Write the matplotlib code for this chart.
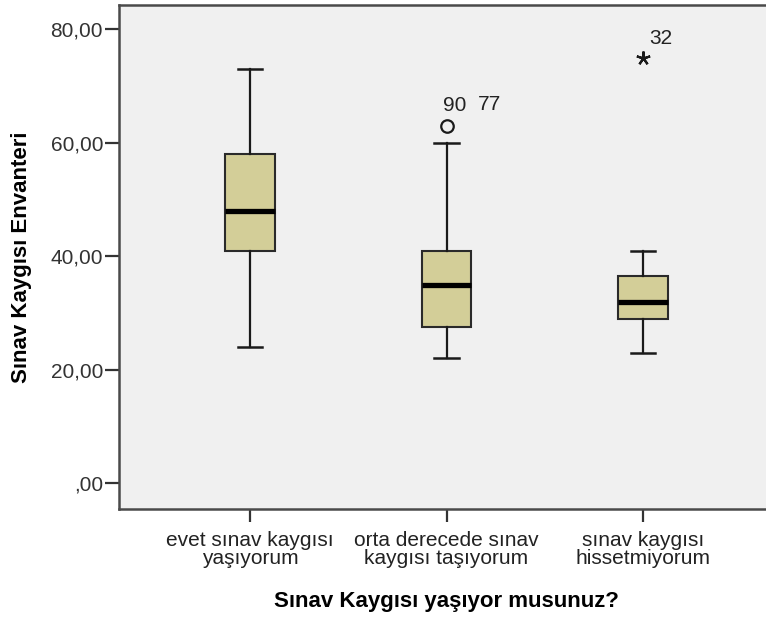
import matplotlib
matplotlib.use("Agg")
import matplotlib.pyplot as plt

plt.rcParams['font.family'] = ['Liberation Sans', 'DejaVu Sans']

# ---- data ----
categories = ["evet sınav kaygısı\nyaşıyorum",
              "orta derecede sınav\nkaygısı taşıyorum",
              "sınav kaygısı\nhissetmiyorum"]
whislo = [24, 22, 23]
q1 = [41, 27.5, 29]
med = [48, 35, 32]
q3 = [58, 41, 36.5]
whishi = [73, 60, 41]

outlier_group = [2]          # mild outliers (circle)
outlier_value = [63]
outlier_labels = [["90", "77"]]

extreme_group = [3]          # extreme (star)
extreme_value = [75]
extreme_labels = [["32"]]

yticks = [0, 20, 40, 60, 80]
ytick_labels = [",00", "20,00", "40,00", "60,00", "80,00"]

xlabel = "Sınav Kaygısı yaşıyor musunuz?"
ylabel = "Sınav Kaygısı Envanteri"

# ---- figure ----
W, H = 766, 621
fig = plt.figure(figsize=(W / 100, H / 100), dpi=100)
ax = fig.add_axes([119 / W, 112 / H, (W - 119) / W, 504 / H])
ax.set_facecolor("#F0F0F0")

stats = []
for i in range(len(categories)):
    stats.append(dict(whislo=whislo[i], q1=q1[i], med=med[i], q3=q3[i],
                      whishi=whishi[i], fliers=[]))
positions = list(range(1, len(categories) + 1))
ax.bxp(stats, positions=positions, widths=0.25, capwidths=0.127,
       patch_artist=True, showfliers=False,
       boxprops=dict(facecolor="#D3CE98", edgecolor="#2a2a2a", linewidth=1.5),
       medianprops=dict(color="black", linewidth=3.8, solid_capstyle="butt"),
       whiskerprops=dict(color="#1a1a1a", linewidth=1.6),
       capprops=dict(color="#1a1a1a", linewidth=1.8))

ax.plot(outlier_group, outlier_value, linestyle="none", marker="o",
        markersize=9, markerfacecolor="none", markeredgecolor="#1a1a1a",
        markeredgewidth=1.6)
ax.plot(extreme_group, extreme_value, linestyle="none", marker=(5, 2, 0),
        markersize=10, markeredgecolor="#1a1a1a", markeredgewidth=1.6)

for g, v, labs in zip(outlier_group, outlier_value, outlier_labels):
    ax.text(g + 0.043, v + 3.6, labs[0], ha="center", va="center",
            fontsize=15, color="#222222")
    ax.text(g + 0.22, v + 3.7, labs[1], ha="center", va="center",
            fontsize=15, color="#222222")
for g, v, labs in zip(extreme_group, extreme_value, extreme_labels):
    ax.text(g + 0.092, v + 3.3, labs[0], ha="center", va="center",
            fontsize=15, color="#222222")

ax.set_xlim(1 - 131 / 196.5, 3 + 123 / 196.5)
ax.set_ylim(-4.53, 84.28)

ax.set_yticks(yticks)
ax.set_yticklabels(ytick_labels)
ax.set_xticks(positions)
ax.set_xticklabels(categories, linespacing=0.95)

ax.tick_params(axis="y", direction="out", length=10, width=1.6,
               color="#333333", labelsize=15, labelcolor="#333333", pad=1.5)
ax.tick_params(axis="x", direction="out", length=9.5, width=1.6,
               color="#333333", labelsize=15, labelcolor="#222222", pad=6)

for s in ["left", "bottom", "top"]:
    ax.spines[s].set_color("#4a4a4a")
    ax.spines[s].set_linewidth(1.8)
ax.spines["right"].set_visible(False)

ax.set_xlabel(xlabel, fontsize=16, fontweight="bold", color="black")
ax.xaxis.label.set_va("center")
ax.xaxis.set_label_coords((446 - 119) / (W - 119), -(601 - 509) / 504)
ax.set_ylabel(ylabel, fontsize=16, fontweight="bold", color="black")
ax.yaxis.label.set_va("center")
ax.yaxis.set_label_coords((22 - 119) / (W - 119), (509 - 257) / 504)

fig.savefig("out.png", dpi=100, facecolor="white")
